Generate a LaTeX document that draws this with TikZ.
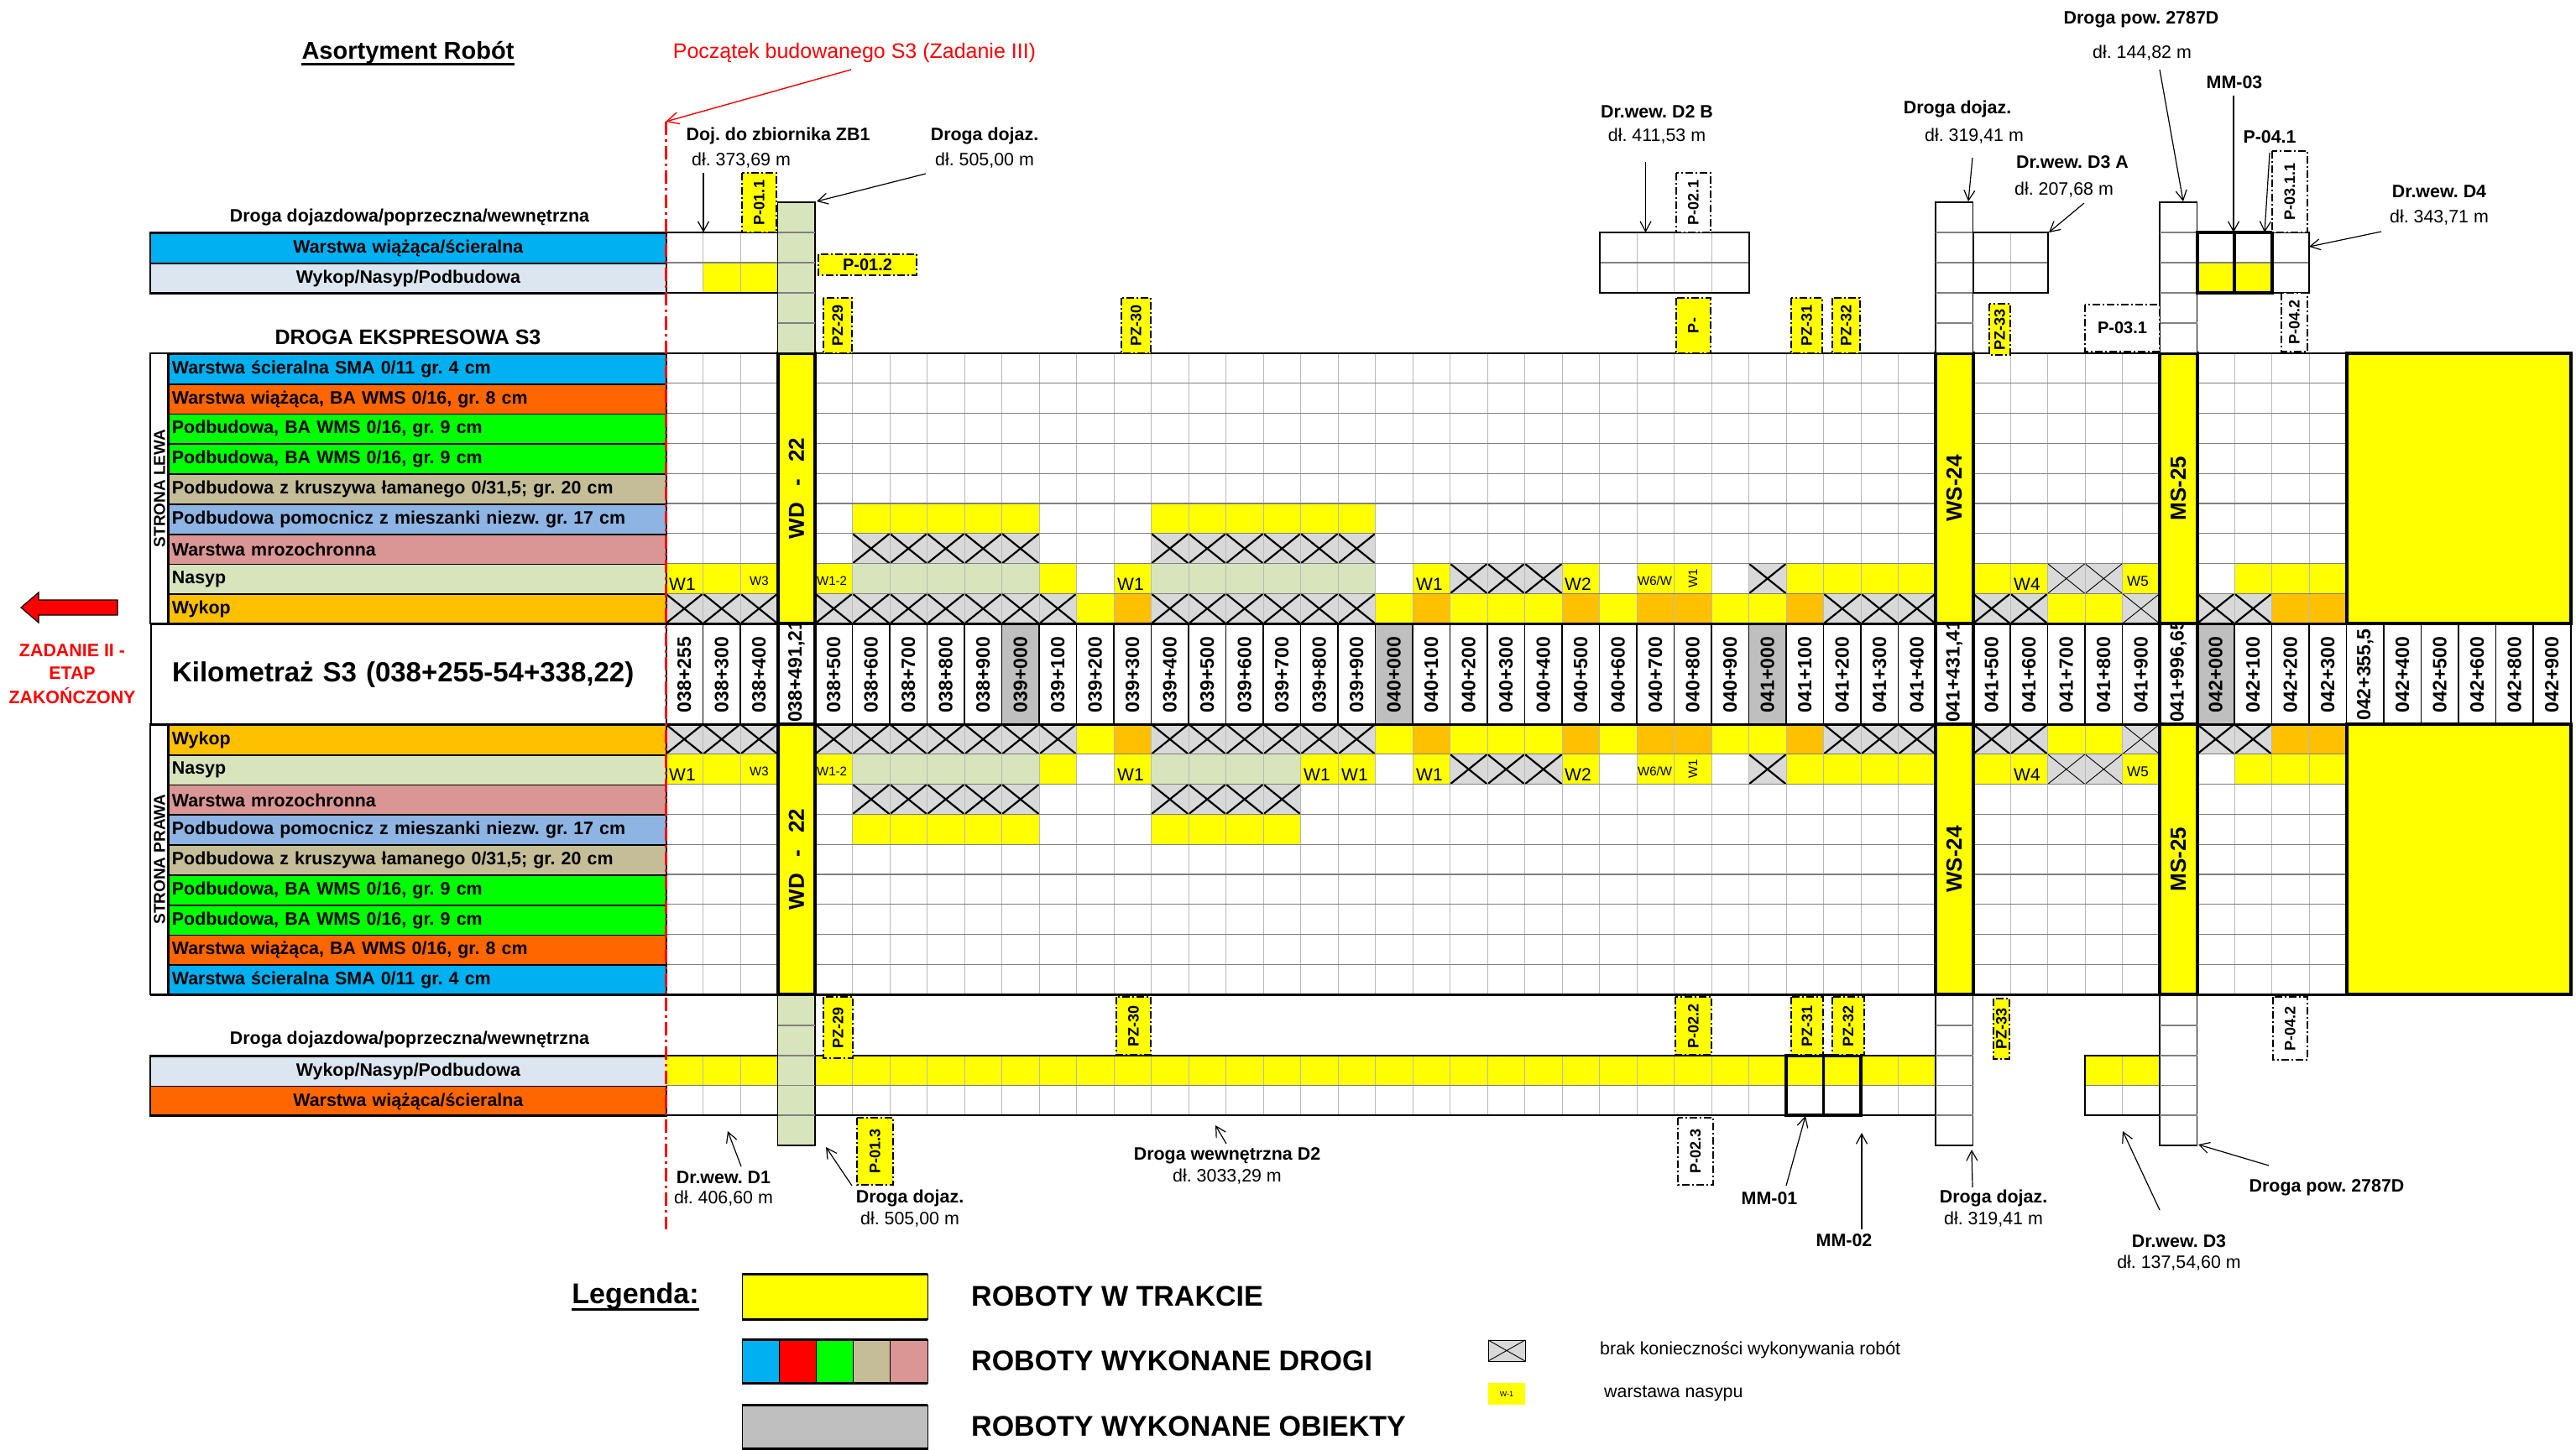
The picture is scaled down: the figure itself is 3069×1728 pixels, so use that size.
\documentclass[tikz,border=0pt]{standalone}
\usepackage{fontspec}
\setmainfont{Liberation Sans}
\usetikzlibrary{arrows.meta}
\frenchspacing
\definecolor{ylw}{HTML}{FFFF00}
\definecolor{lgr}{HTML}{D8E4BC}
\definecolor{orng}{HTML}{FFC000}
\definecolor{cyn}{HTML}{00B0F0}
\definecolor{ornr}{HTML}{FF6600}
\definecolor{grn}{HTML}{00FF00}
\definecolor{tanc}{HTML}{C4BD97}
\definecolor{lblu}{HTML}{8DB4E2}
\definecolor{pnk}{HTML}{DA9694}
\definecolor{pale}{HTML}{DCE6F1}
\definecolor{xgr}{HTML}{D9D9D9}
\definecolor{kmg}{HTML}{BFBFBF}
\newcommand\CellFill[3]{\fill[#3] ({793+(#1-1)*44.5},#2) rectangle ++(44.5,35.8);}
\newcommand\CellX[2]{\fill[xgr] ({793+(#1-1)*44.5},#2) rectangle ++(44.5,35.8);\draw[line width=2.2pt] ({793+(#1-1)*44.5},#2) -- ++(44.5,35.8) ({793+#1*44.5},#2) -- ++(-44.5,35.8);}
\newcommand\CellT[2]{\fill[xgr] ({793+(#1-1)*44.5},#2) rectangle ++(44.5,35.8);\draw[line width=0.9pt] ({793+(#1-1)*44.5},#2) -- ++(44.5,35.8) ({793+#1*44.5},#2) -- ++(-44.5,35.8);}
\newcommand\VBox[7]{\draw[dd, fill=#6] (#2,#3) rectangle (#4,#5); \node[boxlbl] (#1) at ({(#2+#4)/2},{(#3+#5)/2}) {#7};}
\begin{document}
\begin{tikzpicture}[x=1pt,y=-1pt,
  txt/.style={inner sep=0pt, font=\fontsize{21.4}{25}\selectfont},
  txtb/.style={inner sep=0pt, font=\fontsize{21.4}{25}\selectfont\bfseries},
  rowlbl/.style={draw=black, line width=1.8pt, anchor=north west, minimum width=593pt, minimum height=35.8pt, inner xsep=4pt, inner ysep=0pt, text width=585pt, align=left, font=\fontsize{21.4}{25}\selectfont\bfseries},
  sidelbl/.style={draw=black, line width=1.8pt, anchor=north west, minimum width=615pt, minimum height=36pt, inner xsep=4pt, inner ysep=0pt, text width=607pt, align=center, font=\fontsize{21.4}{25}\selectfont\bfseries},
  kmlbl/.style={inner sep=0pt, rotate=90, font=\fontsize{23}{25}\selectfont\bfseries},
  ann/.style={-{Straight Barb[length=12pt,width=13pt]}, line width=1.2pt},
  dd/.style={draw=black, line width=1.6pt, dash pattern=on 9pt off 3pt on 2pt off 3pt},
  boxlbl/.style={inner sep=0pt, rotate=90, font=\fontsize{18}{20}\selectfont\bfseries},
  gridv/.style={draw=gray!55, line width=0.9pt},
  gridh/.style={draw=gray, line width=1.3pt},
  wl/.style={inner sep=0pt, anchor=base west, font=\fontsize{21}{22}\selectfont},
  wls/.style={inner sep=0pt, anchor=base west, font=\fontsize{15}{16}\selectfont},
  structlbl/.style={inner sep=0pt, rotate=90, font=\fontsize{26}{28}\selectfont\bfseries},
  legt/.style={inner sep=0pt, anchor=west, font=\fontsize{34}{36}\selectfont\bfseries}
]
\useasboundingbox (0,0) rectangle (3069,1728);
\fill[white] (0,0) rectangle (3069,1728);

% ---------- upper table fills ----------
\foreach \c in {6,7,8,9,10,14,15,16,17,18,19} {\CellFill{\c}{600}{ylw}}
\foreach \c in {6,7,8,9,10,14,15,16,17,18,19} {\CellX{\c}{635.8}}
\foreach \c in {1,2,3,5,11,13,21,25,27,28,31,32,33,34,36,37,40,43,44,45} {\CellFill{\c}{671.6}{ylw}}
\foreach \c in {6,7,8,9,10,14,15,16,17,18,19} {\CellFill{\c}{671.6}{lgr}}
\foreach \c in {22,23,24,30} {\CellX{\c}{671.6}}
\foreach \c in {38,39} {\CellT{\c}{671.6}}
\foreach \c in {1,2,3,5,6,7,8,9,10,11,14,15,16,17,18,19,32,33,34,36,37,42,43} {\CellX{\c}{707.4}}
\CellT{40}{707.4}
\foreach \c in {12,20,22,23,24,26,29,30,38,39} {\CellFill{\c}{707.4}{ylw}}
\foreach \c in {13,21,25,27,28,31,44,45} {\CellFill{\c}{707.4}{orng}}

% ---------- lower table fills ----------
\foreach \c in {1,2,3,5,6,7,8,9,10,11,14,15,16,17,18,19,32,33,34,36,37,42,43} {\CellX{\c}{863}}
\CellT{40}{863}
\foreach \c in {12,20,22,23,24,26,29,30,38,39} {\CellFill{\c}{863}{ylw}}
\foreach \c in {13,21,25,27,28,31,44,45} {\CellFill{\c}{863}{orng}}
\foreach \c in {1,2,3,5,11,13,18,19,21,25,27,28,31,32,33,34,36,37,40,43,44,45} {\CellFill{\c}{898.8}{ylw}}
\foreach \c in {6,7,8,9,10,14,15,16,17} {\CellFill{\c}{898.8}{lgr}}
\foreach \c in {22,23,24,30} {\CellX{\c}{898.8}}
\foreach \c in {38,39} {\CellT{\c}{898.8}}
\foreach \c in {6,7,8,9,10,14,15,16,17} {\CellX{\c}{934.6}}
\foreach \c in {6,7,8,9,10,14,15,16,17} {\CellFill{\c}{970.4}{ylw}}

% ---------- grid ----------
\foreach \i in {2,...,45} {
  \draw[gridv] ({793+(\i-1)*44.5},421) -- ++(0,322.2);
  \draw[gridv] ({793+(\i-1)*44.5},863) -- ++(0,322.2);
}
\foreach \k in {1,...,8} {
  \draw[gridh] (793,{421+\k*35.8}) -- (2795.5,{421+\k*35.8});
  \draw[gridh] (793,{863+\k*35.8}) -- (2795.5,{863+\k*35.8});
}

% ---------- Nasyp labels ----------
\node[wl] (wa1) at (797,703) {W1};
\node[wls] (wa3) at (893,697) {W3};
\node[wls] (wa5) at (973,697) {W1-2};
\node[wl] (wa13) at (1331,703) {W1};
\node[wl] (wa21) at (1687,703) {W1};
\node[wl] (wa25) at (1864,703) {W2};
\node[wls] (wa27) at (1951,697) {W6/W};
\node[inner sep=0pt, rotate=90, font=\fontsize{15}{16}\selectfont] (wa28) at (2017,689) {W1};
\node[wl] (wa37) at (2399,703) {W4};
\node[wls, font=\fontsize{17}{18}\selectfont] (wa40) at (2534,698) {W5};
\node[wl] (wb1) at (797,930) {W1};
\node[wls] (wb3) at (893,924) {W3};
\node[wls] (wb5) at (973,924) {W1-2};
\node[wl] (wb13) at (1331,930) {W1};
\node[wl] (wb18) at (1553,930) {W1};
\node[wl] (wb19) at (1598,930) {W1};
\node[wl] (wb21) at (1687,930) {W1};
\node[wl] (wb25) at (1864,930) {W2};
\node[wls] (wb27) at (1951,924) {W6/W};
\node[inner sep=0pt, rotate=90, font=\fontsize{15}{16}\selectfont] (wb28) at (2017,916) {W1};
\node[wl] (wb37) at (2399,930) {W4};
\node[wls, font=\fontsize{17}{18}\selectfont] (wb40) at (2534,925) {W5};

% ---------- left labels ----------
\node[rowlbl, fill=cyn] (u1) at (200,421) {Warstwa ścieralna SMA 0/11 gr. 4 cm};
\node[rowlbl, fill=ornr] (u2) at (200,456.8) {Warstwa wiążąca, BA WMS 0/16, gr. 8 cm};
\node[rowlbl, fill=grn] (u3) at (200,492.6) {Podbudowa, BA WMS 0/16, gr. 9 cm};
\node[rowlbl, fill=grn] (u4) at (200,528.4) {Podbudowa, BA WMS 0/16, gr. 9 cm};
\node[rowlbl, fill=tanc] (u5) at (200,564.2) {Podbudowa z kruszywa łamanego 0/31,5; gr. 20 cm};
\node[rowlbl, fill=lblu] (u6) at (200,600) {Podbudowa pomocnicz z mieszanki niezw. gr. 17 cm};
\node[rowlbl, fill=pnk] (u7) at (200,635.8) {Warstwa mrozochronna};
\node[rowlbl, fill=lgr] (u8) at (200,671.6) {Nasyp};
\node[rowlbl, fill=orng] (u9) at (200,707.4) {Wykop};
\node[rowlbl, fill=orng] (l1) at (200,863) {Wykop};
\node[rowlbl, fill=lgr] (l2) at (200,898.8) {Nasyp};
\node[rowlbl, fill=pnk] (l3) at (200,934.6) {Warstwa mrozochronna};
\node[rowlbl, fill=lblu] (l4) at (200,970.4) {Podbudowa pomocnicz z mieszanki niezw. gr. 17 cm};
\node[rowlbl, fill=tanc] (l5) at (200,1006.2) {Podbudowa z kruszywa łamanego 0/31,5; gr. 20 cm};
\node[rowlbl, fill=grn] (l6) at (200,1042) {Podbudowa, BA WMS 0/16, gr. 9 cm};
\node[rowlbl, fill=grn] (l7) at (200,1077.8) {Podbudowa, BA WMS 0/16, gr. 9 cm};
\node[rowlbl, fill=ornr] (l8) at (200,1113.6) {Warstwa wiążąca, BA WMS 0/16, gr. 8 cm};
\node[rowlbl, fill=cyn] (l9) at (200,1149.4) {Warstwa ścieralna SMA 0/11 gr. 4 cm};
\draw[line width=1.8pt] (179,421) rectangle (200,743);
\draw[line width=1.8pt] (179,863) rectangle (200,1185.2);
\node[inner sep=0pt, rotate=90, font=\fontsize{19}{20}\selectfont\bfseries] (sl) at (190,582) {STRONA LEWA};
\node[inner sep=0pt, rotate=90, font=\fontsize{19}{20}\selectfont\bfseries] (sp) at (190,1024) {STRONA PRAWA};

% ---------- km row ----------
\node[draw=black, line width=2pt, anchor=north west, minimum width=614pt, minimum height=120pt, inner xsep=25pt, text width=564pt, align=left, font=\fontsize{33}{36}\selectfont\bfseries] (kmt) at (179,743) {Kilometraż S3 (038+255-54+338,22)};
\foreach \i in {10,20,30,42} {\fill[kmg] ({793+(\i-1)*44.5},743) rectangle ++(44.5,120);}
\foreach \i in {2,...,51} {\draw[line width=1.5pt] ({793+(\i-1)*44.5},743) -- ++(0,120);}
\begin{scope}
\clip (793,743) rectangle (3062.5,863);
\foreach \i/\lab in {1/038+255,2/038+300,3/038+400,5/038+500,6/038+600,7/038+700,8/038+800,9/038+900,10/039+000,11/039+100,12/039+200,13/039+300,14/039+400,15/039+500,16/039+600,17/039+700,18/039+800,19/039+900,20/040+000,21/040+100,22/040+200,23/040+300,24/040+400,25/040+500,26/040+600,27/040+700,28/040+800,29/040+900,30/041+000,31/041+100,32/041+200,33/041+300,34/041+400,36/041+500,37/041+600,38/041+700,39/041+800,40/041+900,42/042+000,43/042+100,44/042+200,45/042+300,46/{042+355,5},47/042+400,48/042+500,49/042+600,50/042+800,51/042+900}
  {\node[kmlbl] (km\i) at ({793+(\i-0.5)*44.5},804) {\lab};}
\foreach \i/\lab in {4/{038+491,21},35/{041+431,41},41/{041+996,65}}
  {\node[kmlbl, anchor=west] (km\i) at ({793+(\i-0.5)*44.5},861) {\lab};}
\end{scope}

% ---------- main borders ----------
\draw[line width=2.5pt] (179,421) -- (3062.5,421);
\draw[line width=3pt] (179,743) -- (3062.5,743);
\draw[line width=3pt] (179,863) -- (3062.5,863);
\draw[line width=3pt] (179,1185.2) -- (3062.5,1185.2);
\draw[line width=2pt] (3062.5,743) -- (3062.5,863);
\draw[line width=4pt, fill=ylw] (2795.5,421) rectangle (3062.5,743);
\draw[line width=4pt, fill=ylw] (2795.5,863) rectangle (3062.5,1185.2);

% ---------- structures ----------
\foreach \x in {926.5,2306,2573} {
  \draw[line width=4pt, fill=ylw] (\x,421) rectangle ++(44.5,322);
  \draw[line width=4pt, fill=ylw] (\x,863) rectangle ++(44.5,322.2);
  \draw[line width=4pt] (\x,743) -- ++(0,120) ({\x+44.5},743) -- ++(0,120);
}
\node[structlbl] (wd1) at (948.75,582) {WD\hspace{20pt}-\hspace{20pt}22};
\node[structlbl] (wd2) at (948.75,1024) {WD\hspace{20pt}-\hspace{20pt}22};
\node[structlbl] (ws1) at (2328.25,582) {WS-24};
\node[structlbl] (ws2) at (2328.25,1024) {WS-24};
\node[structlbl] (ms1) at (2595.25,582) {MS-25};
\node[structlbl] (ms2) at (2595.25,1024) {MS-25};

% ---------- upper side road ----------
\node[txtb] (hdr1) at (488,259) {Droga dojazdowa/poprzeczna/wewnętrzna};
\node[sidelbl, fill=cyn] (s1) at (178,277) {Warstwa wiążąca/ścieralna};
\node[sidelbl, fill=pale] (s2) at (178,313) {Wykop/Nasyp/Podbudowa};
\fill[ylw] (837.5,313) rectangle (926.5,349);
\draw[gridv] (837.5,277) -- (837.5,349) (882,277) -- (882,349);
\draw[gridh] (793,313) -- (926.5,313);
\draw[line width=2pt] (178,277) -- (926.5,277) (178,349) -- (926.5,349);
\draw[line width=1.5pt, fill=lgr] (926.5,241) rectangle (971,421);
\draw[line width=1.5pt, fill=white] (2306,241) rectangle (2350.5,421);
\draw[line width=1.5pt, fill=white] (2573,241) rectangle (2617.5,421);
\foreach \x in {926.5,2306,2573} {\foreach \y in {277,313,349,385} {\draw[gridh] (\x,\y) -- ++(44.5,0);}}
\foreach \x in {1950,1994.5,2039} {\draw[gridv] (\x,277) -- (\x,349);}
\draw[gridh] (1905.5,313) -- (2083.5,313);
\draw[line width=2pt] (1905.5,277) rectangle (2083.5,349);
\draw[gridv] (2395,277) -- (2395,349);
\draw[gridh] (2350.5,313) -- (2439.5,313);
\draw[line width=2pt] (2350.5,277) rectangle (2439.5,349);
\fill[ylw] (2617.5,313) rectangle (2706.5,349);
\draw[gridh] (2617.5,313) -- (2751,313);
\draw[line width=1.5pt] (2706.5,277) rectangle (2751,349);
\draw[line width=4pt] (2617.5,277) rectangle (2706.5,349);
\draw[line width=4pt] (2662,277) -- (2662,349);
\node[txtb, font=\fontsize{25}{28}\selectfont\bfseries] (dek) at (486,402) {DROGA EKSPRESOWA S3};

% ---------- lower side road ----------
\node[txtb] (hdr2) at (488,1239) {Droga dojazdowa/poprzeczna/wewnętrzna};
\node[sidelbl, fill=pale] (s3) at (178,1258) {Wykop/Nasyp/Podbudowa};
\node[sidelbl, fill=ornr] (s4) at (178,1293.5) {Warstwa wiążąca/ścieralna};
\fill[ylw] (793,1258) rectangle (2306,1293.5);
\foreach \i in {2,...,34} {\draw[gridv] ({793+(\i-1)*44.5},1258) -- ++(0,71);}
\draw[gridh] (793,1293.5) -- (2306,1293.5);
\draw[line width=2pt] (178,1258) -- (2306,1258) (178,1329) -- (2306,1329);
\fill[ylw] (2484,1258) rectangle (2573,1293.5);
\draw[gridv] (2528.5,1258) -- (2528.5,1329);
\draw[gridh] (2484,1293.5) -- (2573,1293.5);
\draw[line width=2pt] (2573,1258) -- (2484,1258) -- (2484,1329) -- (2573,1329);
\draw[line width=3.5pt] (2128,1258) rectangle (2172.5,1329);
\draw[line width=3.5pt] (2172.5,1258) rectangle (2217,1329);
\draw[line width=1.5pt, fill=lgr] (926.5,1186.5) rectangle (971,1365);
\draw[line width=1.5pt, fill=white] (2306,1186.5) rectangle (2350.5,1365);
\draw[line width=1.5pt, fill=white] (2573,1186.5) rectangle (2617.5,1365);
\foreach \x in {926.5,2306,2573} {\foreach \y in {1222,1258,1293.5,1329} {\draw[gridh] (\x,\y) -- ++(44.5,0);}}

% ---------- dash-dot boxes ----------
\VBox{p011}{884}{206}{925}{277}{ylw}{P-01.1}
\draw[dd, fill=ylw] (975,303) rectangle (1092,328);
\node[inner sep=0pt, font=\fontsize{20}{22}\selectfont\bfseries] (p012) at (1033.5,315.5) {P-01.2};
\VBox{pz29a}{981}{355}{1015}{421}{ylw}{PZ-29}
\VBox{pz30a}{1336}{355}{1371}{421}{ylw}{PZ-30}
\VBox{p02a}{1997}{355}{2038}{421}{ylw}{P-}
\VBox{pz31a}{2134}{355}{2171}{421}{ylw}{PZ-31}
\VBox{pz32a}{2183}{355}{2216}{421}{ylw}{PZ-32}
\VBox{pz33a}{2370}{362}{2395}{423}{ylw}{PZ-33}
\VBox{p021}{1997}{206}{2038}{277}{white}{P-02.1}
\draw[dd, fill=white] (2484,363) rectangle (2573,419);
\node[inner sep=0pt, font=\fontsize{20}{22}\selectfont\bfseries] (p031) at (2528.5,391) {P-03.1};
\VBox{p0311}{2707}{180}{2749}{277}{white}{P-03.1.1}
\VBox{p042a}{2718}{349}{2749}{419}{white}{P-04.2}
\VBox{pz29b}{981}{1188}{1016}{1261}{ylw}{PZ-29}
\VBox{pz30b}{1330}{1188}{1371}{1257}{ylw}{PZ-30}
\VBox{p022}{1996}{1188}{2039}{1257}{ylw}{P-02.2}
\VBox{pz31b}{2134}{1188}{2172}{1257}{ylw}{PZ-31}
\VBox{pz32b}{2183}{1188}{2221}{1257}{ylw}{PZ-32}
\VBox{pz33b}{2375}{1190}{2394}{1262}{ylw}{PZ-33}
\VBox{p042b}{2708}{1188}{2749}{1263}{white}{P-04.2}
\VBox{p013}{1021}{1332}{1064}{1412}{ylw}{P-01.3}
\VBox{p023}{1999}{1332}{2041}{1412}{white}{P-02.3}

% ---------- titles and annotations ----------
\node[inner sep=0pt, font=\fontsize{29}{32}\selectfont\bfseries] (tit) at (486,63) {Asortyment Robót};
\draw[line width=3.5pt] ([yshift=-6pt]tit.base west) -- ([yshift=-6pt]tit.base east);
\node[txt, font=\fontsize{25}{28}\selectfont, text=red] (pocz) at (1018,63) {Początek budowanego S3 (Zadanie III)};
\coordinate (redtop) at (793,145);
\coordinate (redbot) at (793,1465);
\coordinate (poczs) at (1014,83);
\draw[red, line width=1.4pt, -{Straight Barb[length=14pt,width=14pt]}] (poczs) -- (redtop);
\draw[red, line width=3pt, dash pattern=on 16pt off 5pt on 3pt off 5pt] (redtop) -- (redbot);

\node[txtb] (zb1) at (927,162) {Doj. do zbiornika ZB1};
\node[txt] (zb1d) at (883,191) {dł. 373,69 m};
\coordinate (zb1s) at (838,206); \coordinate (zb1e) at (838,277);
\draw[ann] (zb1s) -- (zb1e);
\node[txtb] (dd1) at (1173,162) {Droga dojaz.};
\node[txt] (dd1d) at (1173,191) {dł. 505,00 m};
\coordinate (dd1s) at (1103,207); \coordinate (dd1e) at (973,240);
\draw[ann] (dd1s) -- (dd1e);
\node[txtb] (d2b) at (1974,133) {Dr.wew. D2 B};
\node[txt] (d2bd) at (1974,162) {dł. 411,53 m};
\coordinate (d2bs) at (1960.5,193); \coordinate (d2be) at (1960.5,277);
\draw[ann] (d2bs) -- (d2be);
\node[txtb] (dd2) at (2332,130) {Droga dojaz.};
\node[txt] (dd2d) at (2352,162) {dł. 319,41 m};
\coordinate (dd2s) at (2350,188); \coordinate (dd2e) at (2345,240);
\draw[ann] (dd2s) -- (dd2e);
\node[txtb] (d3a) at (2469,193) {Dr.wew. D3 A};
\node[txt] (d3ad) at (2459,226) {dł. 207,68 m};
\coordinate (d3as) at (2483,242); \coordinate (d3ae) at (2441,277);
\draw[ann] (d3as) -- (d3ae);
\node[txtb] (pow1) at (2551,23) {Droga pow. 2787D};
\node[txt] (pow1d) at (2552,63) {dł. 144,82 m};
\coordinate (pow1s) at (2573,83); \coordinate (pow1e) at (2601,240);
\draw[ann] (pow1s) -- (pow1e);
\node[txtb] (mm3) at (2662,98) {MM-03};
\coordinate (mm3s) at (2661,114); \coordinate (mm3e) at (2661,277);
\draw[ann] (mm3s) -- (mm3e);
\node[txtb] (p041) at (2704,163) {P-04.1};
\coordinate (p041s) at (2704,182); \coordinate (p041e) at (2698,277);
\draw[ann] (p041s) -- (p041e);
\node[txtb] (d4) at (2906,228) {Dr.wew. D4};
\node[txt] (d4d) at (2906,259) {dł. 343,71 m};
\coordinate (d4s) at (2837,276); \coordinate (d4e) at (2751,294);
\draw[ann] (d4s) -- (d4e);

\node[txtb] (d1) at (862,1403) {Dr.wew. D1};
\node[txt] (d1d) at (862,1428) {dł. 406,60 m};
\coordinate (d1s) at (883,1390); \coordinate (d1e) at (867,1348);
\draw[ann] (d1s) -- (d1e);
\node[txtb] (dd3) at (1084,1428) {Droga dojaz.};
\node[txt] (dd3d) at (1084,1453) {dł. 505,00 m};
\coordinate (dd3s) at (1015,1413); \coordinate (dd3e) at (984,1367);
\draw[ann] (dd3s) -- (dd3e);
\node[txtb] (d2) at (1462,1377) {Droga wewnętrzna D2};
\node[txt] (d2d) at (1462,1402) {dł. 3033,29 m};
\coordinate (d2s) at (1461,1363); \coordinate (d2e) at (1448,1341);
\draw[ann] (d2s) -- (d2e);
\node[txtb] (mm1) at (2108,1428) {MM-01};
\coordinate (mm1s) at (2128,1413); \coordinate (mm1e) at (2151,1330);
\draw[ann] (mm1s) -- (mm1e);
\node[txtb] (mm2) at (2197,1478) {MM-02};
\coordinate (mm2s) at (2218,1465); \coordinate (mm2e) at (2218,1350);
\draw[ann] (mm2s) -- (mm2e);
\node[txtb] (dd4) at (2375,1428) {Droga dojaz.};
\node[txt] (dd4d) at (2375,1453) {dł. 319,41 m};
\coordinate (dd4s) at (2350,1415); \coordinate (dd4e) at (2349,1370);
\draw[ann] (dd4s) -- (dd4e);
\node[txtb] (d3) at (2596,1479) {Dr.wew. D3};
\node[txt] (d3d) at (2596,1505) {dł. 137,54,60 m};
\coordinate (d3s) at (2573,1442); \coordinate (d3e) at (2529,1348);
\draw[ann] (d3s) -- (d3e);
\node[txtb] (pow2) at (2772,1415) {Droga pow. 2787D};
\coordinate (pow2s) at (2703,1389); \coordinate (pow2e) at (2619,1364);
\draw[ann] (pow2s) -- (pow2e);

% ---------- left red arrow ----------
\draw[fill=red, line width=1.2pt] (25,724) -- (46,706) -- (46,715) -- (140,715) -- (140,733) -- (46,733) -- (46,742) -- cycle;
\node[txtb, text=red] (zad1) at (86,775) {ZADANIE II -};
\node[txtb, text=red] (zad2) at (86,802) {ETAP};
\node[txtb, text=red] (zad3) at (86,829) {ZAKOŃCZONY};

% ---------- legend ----------
\node[inner sep=0pt, font=\fontsize{34}{36}\selectfont\bfseries] (leg) at (757,1545) {Legenda:};
\draw[line width=3.5pt] ([yshift=-7pt]leg.base west) -- ([yshift=-7pt]leg.base east);
\draw[fill=ylw, line width=1pt] (884,1518) rectangle (1105,1572);
\draw[line width=3pt] (884,1518) -- (1105,1518) (884,1572) -- (1105,1572);
\fill[cyn] (884,1596) rectangle (928.2,1648);
\fill[red] (928.2,1596) rectangle (972.4,1648);
\fill[grn] (972.4,1596) rectangle (1016.6,1648);
\fill[tanc] (1016.6,1596) rectangle (1060.8,1648);
\fill[pnk] (1060.8,1596) rectangle (1105,1648);
\draw[line width=1pt] (884,1596) rectangle (1105,1648);
\foreach \x in {928.2,972.4,1016.6,1060.8} {\draw[line width=1pt] (\x,1596) -- (\x,1648);}
\draw[line width=3pt] (884,1596) -- (1105,1596) (884,1648) -- (1105,1648);
\draw[fill=kmg, line width=1pt] (884,1674) rectangle (1105,1727);
\draw[line width=3pt] (884,1674) -- (1105,1674) (884,1726) -- (1105,1726);
\node[legt] (lg1) at (1157,1545) {ROBOTY W TRAKCIE};
\node[legt] (lg2) at (1157,1622) {ROBOTY WYKONANE DROGI};
\node[legt] (lg3) at (1157,1700) {ROBOTY WYKONANE OBIEKTY};
\draw[fill=xgr, line width=0.8pt] (1773,1597) rectangle (1817,1622);
\draw[line width=0.9pt] (1773,1597) -- (1817,1622) (1817,1597) -- (1773,1622);
\node[txt, anchor=west] (lg4) at (1906,1609) {brak konieczności wykonywania robót};
\fill[ylw] (1773,1648) rectangle (1817,1674);
\node[inner sep=0pt, font=\fontsize{9}{10}\selectfont] (lgw) at (1795,1661) {W-1};
\node[txt, anchor=west] (lg5) at (1911,1661) {warstawa nasypu};
\end{tikzpicture}
\end{document}
